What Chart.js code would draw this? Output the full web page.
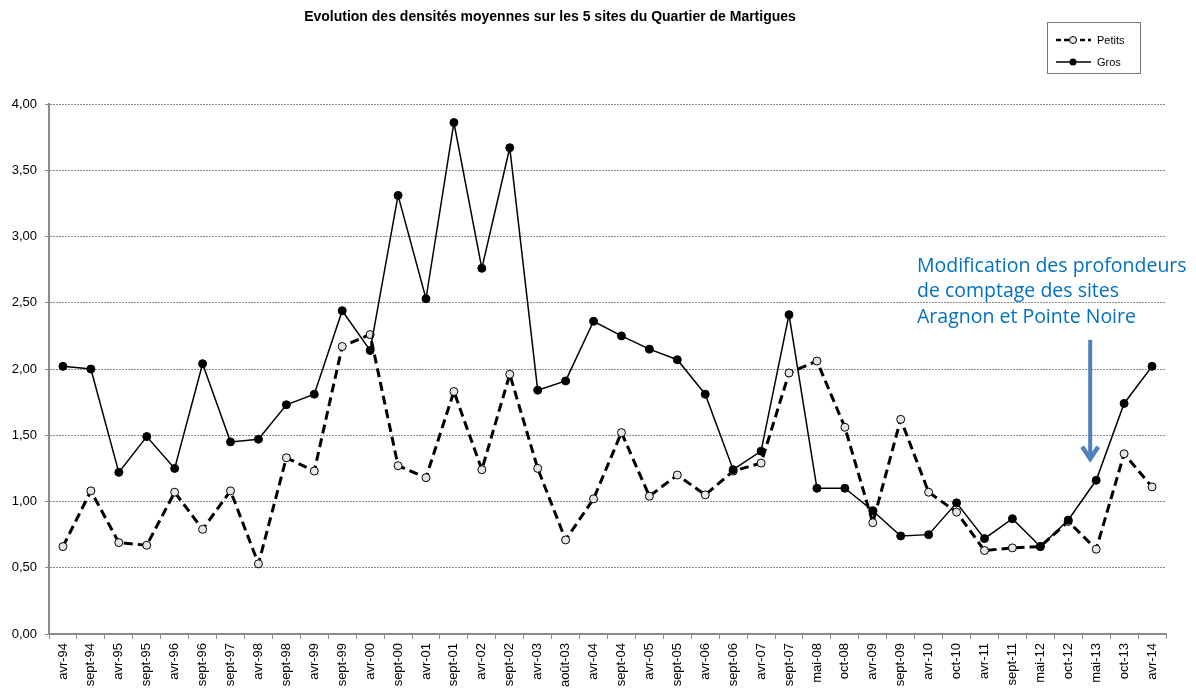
<!DOCTYPE html>
<html>
<head>
<meta charset="utf-8">
<title>Densités moyennes - Quartier de Martigues</title>
<script src="https://cdn.jsdelivr.net/npm/chart.js@4/dist/chart.umd.min.js"></script>
<style>
    html, body { margin: 0; padding: 0; background: #fff; }
    #wrap { width: 1196px; height: 691px; }
</style>
</head>
<body>
<div id="wrap"><canvas id="densites" width="1196" height="691"></canvas></div>
<script>
const campagnes = ['avr-94', 'sept-94', 'avr-95', 'sept-95', 'avr-96', 'sept-96', 'sept-97', 'avr-98',
    'sept-98', 'avr-99', 'sept-99', 'avr-00', 'sept-00', 'avr-01', 'sept-01', 'avr-02', 'sept-02',
    'avr-03', 'août-03', 'avr-04', 'sept-04', 'avr-05', 'sept-05', 'avr-06', 'sept-06', 'avr-07',
    'sept-07', 'mai-08', 'oct-08', 'avr-09', 'sept-09', 'avr-10', 'oct-10', 'avr-11', 'sept-11',
    'mai-12', 'oct-12', 'mai-13', 'oct-13', 'avr-14'];

const petits = [0.66, 1.08, 0.69, 0.67, 1.07, 0.79, 1.08, 0.53, 1.33, 1.23, 2.17, 2.26, 1.27, 1.18,
    1.83, 1.24, 1.96, 1.25, 0.71, 1.02, 1.52, 1.04, 1.20, 1.05, 1.23, 1.29, 1.97, 2.06, 1.56, 0.84,
    1.62, 1.07, 0.92, 0.63, 0.65, 0.66, 0.85, 0.64, 1.36, 1.11];

const gros = [2.02, 2.00, 1.22, 1.49, 1.25, 2.04, 1.45, 1.47, 1.73, 1.81, 2.44, 2.14, 3.31, 2.53,
    3.86, 2.76, 3.67, 1.84, 1.91, 2.36, 2.25, 2.15, 2.07, 1.81, 1.24, 1.38, 2.41, 1.10, 1.10, 0.93,
    0.74, 0.75, 0.99, 0.72, 0.87, 0.66, 0.86, 1.16, 1.74, 2.02];

const titre = 'Evolution des densités moyennes sur les 5 sites du Quartier de Martigues';
const noteLignes = ['Modification des profondeurs', 'de comptage des sites', 'Aragnon et Pointe Noire'];

const FONT = 'Arial, "Liberation Sans", sans-serif';
const GREY = '#8c8c8c';

// white background behind everything
const fond = {
    id: 'fond',
    beforeDraw(chart) {
        const ctx = chart.ctx;
        ctx.save();
        ctx.fillStyle = '#fff';
        ctx.fillRect(0, 0, chart.width, chart.height);
        ctx.restore();
    }
};

// title, boxed legend and the blue note with its arrow
const habillage = {
    id: 'habillage',
    afterDraw(chart) {
        const ctx = chart.ctx;
        const x = chart.scales.x;
        const y = chart.scales.y;
        ctx.save();

        ctx.fillStyle = '#000';
        ctx.font = 'bold 14px ' + FONT;
        ctx.textAlign = 'center';
        ctx.textBaseline = 'middle';
        ctx.fillText(titre, 550, 17);

        // legend box
        ctx.strokeStyle = '#777';
        ctx.lineWidth = 1;
        ctx.strokeRect(1047.5, 22.5, 93, 51);
        ctx.strokeStyle = '#000';
        ctx.lineWidth = 2.5;
        ctx.setLineDash([5, 3]);
        ctx.beginPath();
        ctx.moveTo(1056, 40);
        ctx.lineTo(1091, 40);
        ctx.stroke();
        ctx.setLineDash([]);
        ctx.lineWidth = 1.5;
        ctx.beginPath();
        ctx.moveTo(1056, 62);
        ctx.lineTo(1091, 62);
        ctx.stroke();
        ctx.lineWidth = 1;
        ctx.fillStyle = '#e6e6e6';
        ctx.beginPath();
        ctx.arc(1073, 40, 3.5, 0, Math.PI * 2);
        ctx.fill();
        ctx.stroke();
        ctx.fillStyle = '#000';
        ctx.beginPath();
        ctx.arc(1073, 62, 3.5, 0, Math.PI * 2);
        ctx.fill();
        ctx.font = '11px ' + FONT;
        ctx.textAlign = 'left';
        ctx.fillText('Petits', 1097, 41);
        ctx.fillText('Gros', 1097, 63);

        // note
        ctx.fillStyle = '#0070c0';
        ctx.font = '19.5px "Open Sans", "Noto Sans", sans-serif';
        ctx.textBaseline = 'middle';
        noteLignes.forEach((l, i) => ctx.fillText(l, 917, 266 + i * 25.5));

        // arrow pointing down at mai-13
        const ax = x.getPixelForValue(37) - 6;
        const top = y.getPixelForValue(2.22);
        const tip = y.getPixelForValue(1.30);
        ctx.strokeStyle = '#4f81bd';
        ctx.lineWidth = 4;
        ctx.beginPath();
        ctx.moveTo(ax, top);
        ctx.lineTo(ax, tip - 6);
        ctx.stroke();
        ctx.lineWidth = 4.5;
        ctx.lineJoin = 'miter';
        ctx.beginPath();
        ctx.moveTo(ax - 8, tip - 15);
        ctx.lineTo(ax, tip - 3);
        ctx.lineTo(ax + 8, tip - 15);
        ctx.stroke();

        ctx.restore();
    }
};

new Chart(document.getElementById('densites'), {
    type: 'line',
    data: {
        labels: campagnes,
        datasets: [
            {
                label: 'Gros',
                data: gros,
                borderColor: '#000',
                borderWidth: 1.5,
                pointRadius: 4,
                pointBackgroundColor: '#000',
                pointBorderColor: '#000',
                pointBorderWidth: 1,
                tension: 0
            },
            {
                label: 'Petits',
                data: petits,
                borderColor: '#000',
                borderWidth: 3,
                borderDash: [9, 5],
                pointRadius: 4,
                pointBackgroundColor: '#e6e6e6',
                pointBorderColor: '#000',
                pointBorderWidth: 1,
                tension: 0
            }
        ]
    },
    options: {
        responsive: false,
        animation: false,
        layout: { padding: { top: 104, right: 30, left: 0, bottom: 0 } },
        plugins: {
            legend: { display: false },
            title: { display: false },
            tooltip: { enabled: false }
        },
        scales: {
            x: {
                offset: true,
                afterFit(scale) { scale.height = 57; },
                grid: {
                    offset: true,
                    drawOnChartArea: false,
                    drawTicks: true,
                    tickLength: 5,
                    tickColor: GREY,
                    tickWidth: 1
                },
                border: { color: GREY, width: 2 },
                ticks: {
                    autoSkip: false,
                    minRotation: 90,
                    maxRotation: 90,
                    padding: 4,
                    color: '#000',
                    font: { family: FONT, size: 13 }
                }
            },
            y: {
                min: 0,
                max: 4,
                afterFit(scale) { scale.width = 49; },
                grid: {
                    color: (c) => c.tick && c.tick.value === 0 ? 'rgba(0,0,0,0)' : '#8a8a8a',
                    lineWidth: 1,
                    tickLength: 4,
                    tickColor: GREY,
                    tickBorderDash: []
                },
                border: { color: GREY, width: 2, dash: [2, 1] },
                ticks: {
                    stepSize: 0.5,
                    padding: 8,
                    color: '#000',
                    font: { family: FONT, size: 13 },
                    callback: (v) => v.toFixed(2).replace('.', ',')
                }
            }
        }
    },
    plugins: [fond, habillage]
});
</script>
</body>
</html>
